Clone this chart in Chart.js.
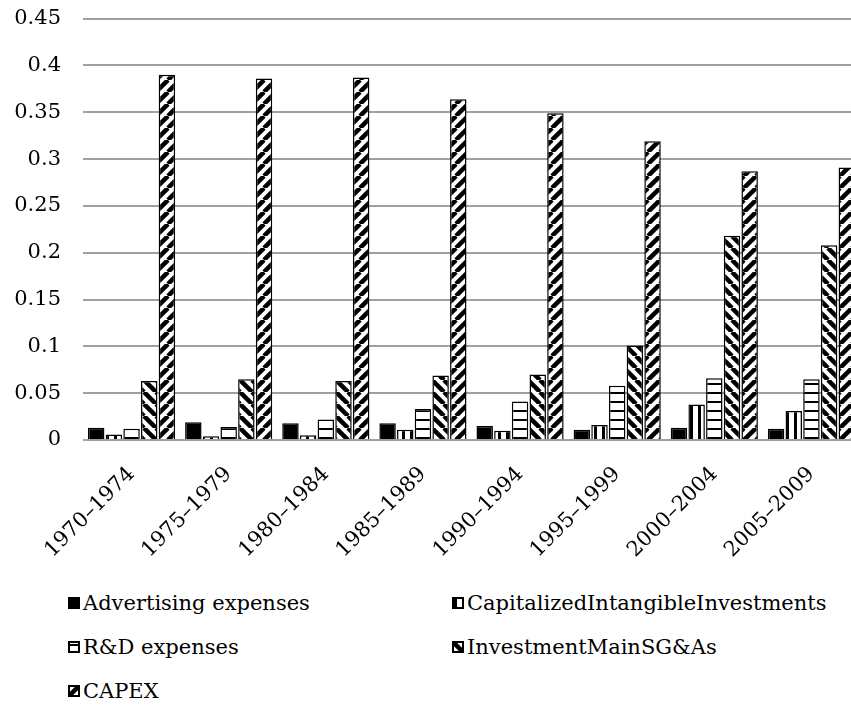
<!DOCTYPE html>
<html>
<head>
<meta charset="utf-8">
<script src="https://cdn.jsdelivr.net/npm/chart.js@4.4.1/dist/chart.umd.min.js"></script>
<style>
  html, body { margin: 0; padding: 0; background: #fff; overflow: hidden; }
  body { width: 851px; height: 707px; position: relative; }
  #wrap { position: absolute; left: 0; top: -16px; width: 860px; height: 591px; }
  .legend { position: absolute; left: 0; top: 0; font-family: "DejaVu Serif", serif; font-size: 21px; color: #000; }
  .item { position: absolute; display: flex; align-items: center; white-space: nowrap; height: 30px; }
  .item canvas { width: 12px; height: 12px; margin-right: 3px; }
</style>
</head>
<body>
<div id="wrap"><canvas id="chart"></canvas></div>
<div class="legend" id="legend"></div>
<script>
// Periods on the x axis
const periods = ["1970–1974", "1975–1979", "1980–1984", "1985–1989", "1990–1994", "1995–1999", "2000–2004", "2005–2009"];

// Series values
const advertising = [0.013, 0.019, 0.018, 0.018, 0.015, 0.011, 0.013, 0.012];
const capIntangible = [0.006, 0.004, 0.005, 0.011, 0.010, 0.016, 0.038, 0.031];
const rdExpenses = [0.012, 0.014, 0.022, 0.033, 0.041, 0.058, 0.066, 0.065];
const investSGA = [0.063, 0.065, 0.063, 0.069, 0.070, 0.101, 0.218, 0.208];
const capex = [0.390, 0.386, 0.387, 0.364, 0.349, 0.319, 0.287, 0.291];

// y axis tick labels
const yTickLabels = ["0", "0.05", "0.1", "0.15", "0.2", "0.25", "0.3", "0.35", "0.4", "0.45"];

// Pattern helpers
function makeTile(size, draw) {
  const c = document.createElement("canvas");
  c.width = size;
  c.height = size;
  const g = c.getContext("2d");
  g.fillStyle = "#fff";
  g.fillRect(0, 0, size, size);
  g.fillStyle = "#000";
  g.strokeStyle = "#000";
  draw(g, size);
  return c;
}

function pattern(tile) {
  const ctx = document.createElement("canvas").getContext("2d");
  return ctx.createPattern(tile, "repeat");
}

const tiles = {
  solid: makeTile(4, (g, s) => g.fillRect(0, 0, s, s)),
  vertical: makeTile(8, (g, s) => g.fillRect(2, 0, 3, s)),
  horizontal: makeTile(9, (g, s) => g.fillRect(0, 3, s, 2)),
  down: makeTile(12, (g, s) => {
    g.lineWidth = 4.5;
    for (let k = -1; k <= 1; k++) {
      g.beginPath();
      g.moveTo(k * s, 0);
      g.lineTo(k * s + s, s);
      g.stroke();
    }
  }),
  up: makeTile(12, (g, s) => {
    g.lineWidth = 4.5;
    for (let k = -1; k <= 1; k++) {
      g.beginPath();
      g.moveTo(k * s, s);
      g.lineTo(k * s + s, 0);
      g.stroke();
    }
  }),
};

const series = [
  { label: "Advertising expenses", data: advertising, tile: tiles.solid },
  { label: "CapitalizedIntangibleInvestments", data: capIntangible, tile: tiles.vertical },
  { label: "R&D expenses", data: rdExpenses, tile: tiles.horizontal },
  { label: "InvestmentMainSG&As", data: investSGA, tile: tiles.down },
  { label: "CAPEX", data: capex, tile: tiles.up },
];

const font = { family: "'DejaVu Serif', serif", size: 21 };

const chart = new Chart(document.getElementById("chart"), {
  type: "bar",
  data: {
    labels: periods,
    datasets: series.map((s) => ({
      label: s.label,
      data: s.data,
      backgroundColor: pattern(s.tile),
      borderColor: "#000",
      borderWidth: 1.5,
      categoryPercentage: 0.91,
      barPercentage: 0.93,
    })),
  },
  options: {
    responsive: true,
    maintainAspectRatio: false,
    animation: false,
    layout: { padding: { top: 0, right: 0, left: 0, bottom: 0 } },
    plugins: {
      legend: { display: false },
      tooltip: { enabled: false },
    },
    scales: {
      x: {
        grid: { display: false },
        border: { display: false },
        ticks: {
          color: "#000",
          font: font,
          minRotation: 45,
          maxRotation: 45,
          padding: 14,
          autoSkip: false,
        },
        afterFit: (s) => { s.height = 135; },
      },
      y: {
        min: 0,
        max: 0.45,
        border: { display: false },
        grid: { color: "#a0a0a0", lineWidth: 2, drawTicks: false },
        ticks: {
          stepSize: 0.05,
          color: "#000",
          font: font,
          padding: 22,
          callback: (v, i) => yTickLabels[i],
        },
        afterFit: (s) => { s.width = 83; },
      },
    },
  },
});

// Legend laid out in two columns like the original
const legendPos = [
  [68, 588], [452, 588],
  [68, 632], [452, 632],
  [68, 676],
];
const legend = document.getElementById("legend");
series.forEach((s, i) => {
  const item = document.createElement("div");
  item.className = "item";
  item.style.left = legendPos[i][0] + "px";
  item.style.top = legendPos[i][1] + "px";
  const sw = document.createElement("canvas");
  sw.width = 12;
  sw.height = 12;
  const g = sw.getContext("2d");
  g.fillStyle = g.createPattern(s.tile, "repeat");
  g.fillRect(0, 0, 12, 12);
  g.strokeStyle = "#000";
  g.lineWidth = 2;
  g.strokeRect(1, 1, 10, 10);
  item.appendChild(sw);
  const t = document.createElement("span");
  t.textContent = s.label;
  item.appendChild(t);
  legend.appendChild(item);
});
</script>
</body>
</html>
